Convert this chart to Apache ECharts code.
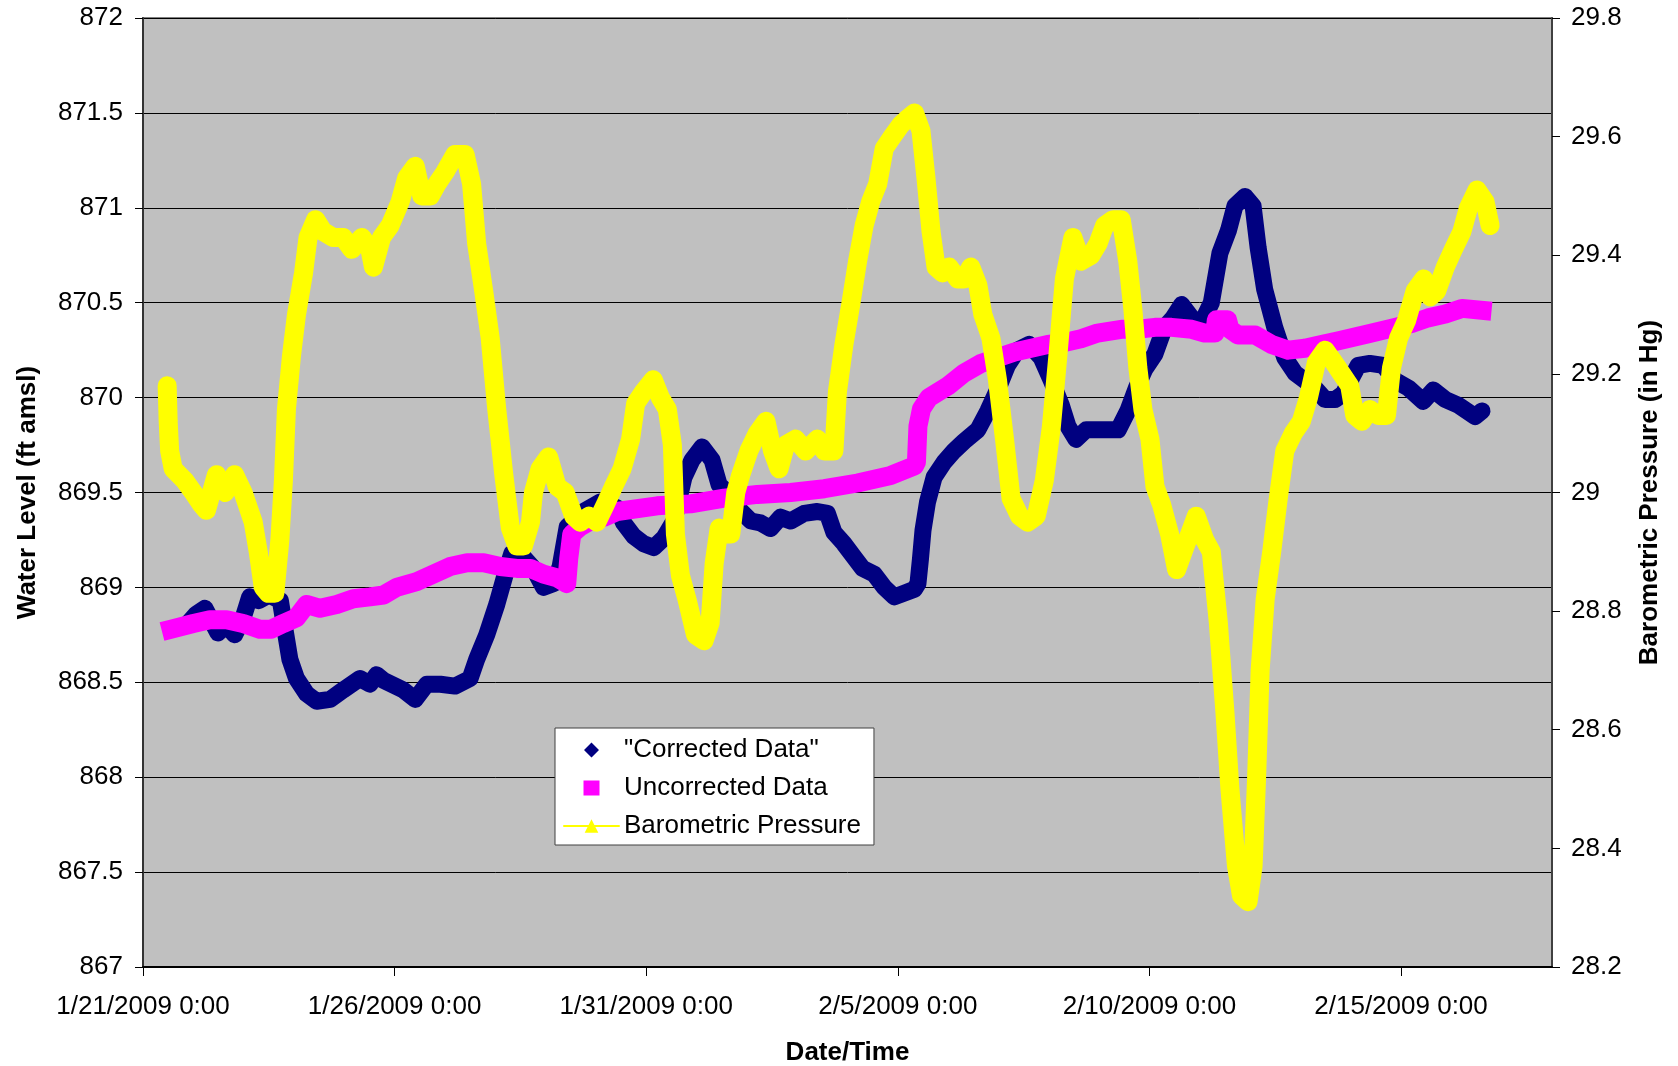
<!DOCTYPE html>
<html>
<head>
<meta charset="utf-8">
<title>Water Level and Barometric Pressure</title>
<script src="https://cdn.jsdelivr.net/npm/echarts@6/dist/echarts.min.js"></script>
<style>
  html, body { margin: 0; padding: 0; background: #ffffff; }
  #chart { width: 1678px; height: 1066px; }
</style>
</head>
<body>
<div id="chart"></div>
<script>
// Time is measured in days after 1/21/2009 0:00.
const xTickDays = [0, 5, 10, 15, 20, 25];
const xTickLabels = ['1/21/2009 0:00', '1/26/2009 0:00', '1/31/2009 0:00',
                     '2/5/2009 0:00', '2/10/2009 0:00', '2/15/2009 0:00'];

// Water level after barometric correction (ft amsl)
const correctedData = [
  [0.56,868.78],[0.86,868.80],[1.06,868.86],[1.23,868.89],[1.49,868.76],[1.66,868.80],[1.82,868.75],
  [1.99,868.84],[2.12,868.95],[2.30,868.93],[2.50,868.96],[2.73,868.93],[2.82,868.78],[2.92,868.62],
  [3.05,868.52],[3.25,868.44],[3.45,868.40],[3.72,868.41],[3.98,868.46],[4.31,868.52],[4.51,868.49],
  [4.64,868.54],[4.78,868.51],[5.17,868.46],[5.41,868.41],[5.64,868.49],[5.91,868.49],[6.20,868.48],
  [6.50,868.52],[6.63,868.62],[6.83,868.75],[7.03,868.91],[7.20,869.07],[7.33,869.18],[7.56,869.16],
  [7.76,869.10],[7.96,869.00],[8.16,869.02],[8.29,869.11],[8.43,869.32],[8.76,869.40],[9.09,869.45],
  [9.42,869.42],[9.55,869.34],[9.75,869.27],[9.95,869.23],[10.15,869.21],[10.35,869.26],[10.55,869.35],
  [10.75,869.58],[10.91,869.67],[11.11,869.74],[11.31,869.67],[11.45,869.54],[11.61,869.50],[11.81,869.42],
  [12.08,869.35],[12.27,869.34],[12.47,869.31],[12.67,869.37],[12.87,869.35],[13.14,869.39],[13.40,869.40],
  [13.60,869.39],[13.73,869.29],[13.93,869.23],[14.13,869.16],[14.30,869.10],[14.53,869.07],[14.73,869.00],
  [14.93,868.95],[15.13,868.97],[15.33,868.99],[15.40,869.02],[15.45,869.15],[15.50,869.30],[15.59,869.45],
  [15.72,869.58],[15.92,869.66],[16.12,869.72],[16.32,869.77],[16.59,869.83],[16.79,869.93],[16.98,870.04],
  [17.18,870.17],[17.38,870.25],[17.61,870.28],[17.85,870.21],[18.05,870.09],[18.25,869.96],[18.38,869.85],
  [18.54,869.78],[18.74,869.83],[18.97,869.83],[19.38,869.83],[19.57,869.93],[19.74,870.05],[19.91,870.15],
  [20.11,870.23],[20.30,870.37],[20.47,870.42],[20.64,870.49],[20.84,870.42],[21.03,870.39],[21.23,870.50],
  [21.40,870.76],[21.57,870.88],[21.70,871.01],[21.90,871.06],[22.06,871.01],[22.16,870.79],[22.29,870.57],
  [22.49,870.37],[22.69,870.21],[22.89,870.13],[23.09,870.09],[23.29,870.05],[23.49,869.99],[23.69,869.99],
  [23.85,870.02],[24.15,870.17],[24.38,870.18],[24.65,870.17],[24.88,870.09],[25.15,870.05],[25.44,869.98],
  [25.64,870.04],[25.88,869.99],[26.14,869.96],[26.47,869.90],[26.61,869.93]
];

// Raw transducer water level (ft amsl)
const uncorrectedData = [
  [0.56,868.78],[1.00,868.81],[1.33,868.83],[1.66,868.83],[1.99,868.81],[2.32,868.78],[2.55,868.78],
  [2.79,868.81],[3.05,868.84],[3.25,868.91],[3.52,868.89],[3.85,868.91],[4.18,868.94],[4.51,868.95],
  [4.78,868.96],[5.04,869.00],[5.44,869.03],[5.77,869.07],[6.10,869.11],[6.44,869.13],[6.77,869.13],
  [7.10,869.11],[7.43,869.10],[7.70,869.10],[7.96,869.07],[8.23,869.05],[8.42,869.02],[8.46,869.15],
  [8.52,869.28],[8.69,869.32],[8.89,869.35],[9.16,869.37],[9.42,869.40],[10.22,869.43],[10.88,869.44],
  [11.55,869.47],[12.21,869.49],[12.87,869.50],[13.54,869.52],[14.20,869.55],[14.86,869.59],[15.33,869.64],
  [15.37,869.66],[15.40,869.85],[15.47,869.94],[15.62,870.00],[15.99,870.06],[16.32,870.13],[16.65,870.18],
  [16.98,870.21],[17.32,870.24],[17.65,870.26],[17.98,870.28],[18.31,870.29],[18.64,870.31],[18.97,870.34],
  [19.44,870.36],[19.77,870.36],[20.11,870.37],[20.44,870.37],[20.84,870.36],[21.10,870.34],[21.30,870.34],
  [21.33,870.41],[21.55,870.41],[21.60,870.36],[21.76,870.33],[22.10,870.33],[22.43,870.28],[22.76,870.25],
  [23.09,870.26],[23.42,870.28],[23.76,870.30],[24.42,870.34],[24.88,870.37],[25.21,870.39],[25.54,870.42],
  [25.88,870.44],[26.21,870.47],[26.61,870.46]
];

// Barometric pressure (in Hg)
const baroData = [
  [0.48,29.18],[0.50,29.12],[0.53,29.07],[0.60,29.04],[0.83,29.02],[1.00,29.00],[1.16,28.98],[1.26,28.97],
  [1.46,29.03],[1.63,29.00],[1.82,29.03],[1.99,29.00],[2.19,28.95],[2.29,28.90],[2.39,28.84],[2.49,28.83],
  [2.62,28.83],[2.72,28.92],[2.79,29.02],[2.85,29.14],[2.95,29.23],[3.05,29.30],[3.19,29.37],[3.28,29.43],
  [3.43,29.46],[3.58,29.44],[3.78,29.43],[3.98,29.43],[4.15,29.41],[4.35,29.43],[4.51,29.41],[4.58,29.38],
  [4.74,29.43],[4.91,29.45],[5.11,29.49],[5.24,29.53],[5.41,29.55],[5.54,29.50],[5.71,29.50],[5.84,29.52],
  [6.00,29.54],[6.20,29.57],[6.40,29.57],[6.53,29.52],[6.63,29.42],[6.77,29.34],[6.90,29.26],[7.03,29.14],
  [7.17,29.03],[7.30,28.94],[7.43,28.91],[7.56,28.91],[7.70,28.95],[7.76,29.00],[7.89,29.04],[8.06,29.06],
  [8.23,29.01],[8.39,29.00],[8.56,28.96],[8.69,28.95],[8.86,28.96],[9.02,28.95],[9.19,28.98],[9.35,29.01],
  [9.52,29.04],[9.69,29.09],[9.79,29.15],[9.95,29.17],[10.14,29.19],[10.28,29.16],[10.42,29.14],[10.52,29.08],
  [10.58,28.93],[10.68,28.86],[10.81,28.82],[10.98,28.76],[11.15,28.75],[11.27,28.78],[11.35,28.88],[11.45,28.94],
  [11.55,28.93],[11.68,28.93],[11.78,29.00],[11.88,29.03],[12.04,29.07],[12.21,29.10],[12.38,29.12],[12.51,29.07],
  [12.64,29.04],[12.77,29.08],[12.97,29.09],[13.17,29.07],[13.40,29.09],[13.54,29.07],[13.73,29.07],[13.80,29.17],
  [13.93,29.25],[14.07,29.32],[14.20,29.39],[14.33,29.45],[14.46,29.49],[14.60,29.52],[14.73,29.58],[14.89,29.60],
  [15.06,29.62],[15.19,29.63],[15.33,29.64],[15.46,29.61],[15.56,29.53],[15.66,29.44],[15.76,29.38],[15.89,29.37],
  [16.02,29.38],[16.19,29.36],[16.32,29.36],[16.45,29.38],[16.59,29.35],[16.69,29.30],[16.85,29.26],[16.98,29.19],
  [17.12,29.09],[17.25,28.99],[17.42,28.96],[17.58,28.95],[17.75,28.96],[17.91,29.02],[18.05,29.11],[18.18,29.23],
  [18.31,29.36],[18.48,29.43],[18.64,29.39],[18.84,29.40],[18.98,29.42],[19.11,29.45],[19.28,29.46],[19.44,29.46],
  [19.57,29.39],[19.67,29.31],[19.77,29.21],[19.87,29.14],[20.01,29.09],[20.11,29.01],[20.24,28.98],[20.40,28.93],
  [20.54,28.87],[20.67,28.90],[20.80,28.93],[20.93,28.96],[21.10,28.92],[21.23,28.90],[21.37,28.78],[21.50,28.63],
  [21.60,28.50],[21.73,28.37],[21.83,28.32],[21.96,28.31],[22.06,28.37],[22.13,28.52],[22.20,28.70],[22.30,28.82],
  [22.43,28.90],[22.56,28.99],[22.69,29.07],[22.86,29.10],[23.02,29.12],[23.16,29.16],[23.32,29.22],[23.49,29.24],
  [23.66,29.22],[23.82,29.20],[23.98,29.18],[24.08,29.13],[24.22,29.12],[24.38,29.14],[24.55,29.13],[24.71,29.13],
  [24.81,29.21],[24.95,29.26],[25.11,29.29],[25.28,29.34],[25.45,29.36],[25.58,29.33],[25.71,29.34],[25.88,29.38],
  [26.04,29.41],[26.21,29.44],[26.34,29.48],[26.51,29.51],[26.67,29.49],[26.77,29.45]
];

const FONT = '"Liberation Sans", Arial, Helvetica, sans-serif';
const labelStyle = { fontFamily: FONT, fontSize: 26, color: '#000' };
const titleStyle = { fontFamily: FONT, fontSize: 26, fontWeight: 'bold', color: '#000' };

// Legend marker shapes drawn inside the full 55 x 17 icon box, so the
// marker keeps its own proportions and sits at the centre of the box.
const ICON_DIAMOND = 'path://M0,0 L0.01,0 L0.01,0.01 L0,0.01 Z M55,17 L54.99,17 L54.99,16.99 L55,16.99 Z M27.5,1 L35,8.5 L27.5,16 L20,8.5 Z';
const ICON_SQUARE = 'path://M0,0 L0.01,0 L0.01,0.01 L0,0.01 Z M55,17 L54.99,17 L54.99,16.99 L55,16.99 Z M19.5,1 L35.5,1 L35.5,16 L19.5,16 Z';

const chart = echarts.init(document.getElementById('chart'), null, { renderer: 'canvas' });

chart.setOption({
  animation: false,
  backgroundColor: '#ffffff',
  grid: {
    left: 143, right: 126, top: 18, bottom: 99,
    show: true, backgroundColor: '#c0c0c0',
    borderColor: '#808080', borderWidth: 2,
    containLabel: false, outerBoundsMode: 'none'
  },
  legend: {
    orient: 'vertical',
    left: 555, top: 728,
    padding: [9, 13, 6, 8],
    itemGap: 12,
    itemWidth: 55, itemHeight: 17,
    symbolKeepAspect: false,
    backgroundColor: '#ffffff',
    borderColor: '#404040', borderWidth: 1, borderRadius: 0,
    textStyle: labelStyle,
    lineStyle: { width: 2 },
    selectedMode: false,
    data: [
      { name: '"Corrected Data"', icon: ICON_DIAMOND },
      { name: 'Uncorrected Data', icon: ICON_SQUARE },
      { name: 'Barometric Pressure' }
    ]
  },
  xAxis: {
    type: 'value',
    min: 0, max: 28, interval: 5,
    name: 'Date/Time', nameLocation: 'middle', nameGap: 73,
    nameTextStyle: titleStyle,
    axisLine: { show: true, onZero: false, lineStyle: { color: '#000', width: 2 } },
    axisTick: { show: true, length: 9, lineStyle: { color: '#000', width: 1 } },
    axisLabel: Object.assign({}, labelStyle, {
      margin: 27, showMaxLabel: false,
      formatter: function (v) {
        const i = xTickDays.indexOf(v);
        return i >= 0 ? xTickLabels[i] : '';
      }
    }),
    splitLine: { show: false }
  },
  yAxis: [
    {
      type: 'value', position: 'left',
      min: 867, max: 872, interval: 0.5,
      name: 'Water Level (ft amsl)', nameLocation: 'middle', nameRotate: 90, nameGap: 102,
      nameTextStyle: titleStyle,
      axisLine: { show: true, lineStyle: { color: '#333', width: 2 } },
      axisTick: { show: true, length: 8, lineStyle: { color: '#000', width: 1 } },
      axisLabel: Object.assign({}, labelStyle, { margin: 20 }),
      splitLine: { show: true, lineStyle: { color: '#000', width: 1 } }
    },
    {
      type: 'value', position: 'right',
      min: 28.2, max: 29.8, interval: 0.2,
      name: 'Barometric Pressure (in Hg)', nameLocation: 'middle', nameRotate: 90, nameGap: 85,
      nameTextStyle: titleStyle,
      axisLine: { show: true, lineStyle: { color: '#404040', width: 2 } },
      axisTick: { show: true, length: 8, lineStyle: { color: '#000', width: 1 } },
      axisLabel: Object.assign({}, labelStyle, { margin: 19 }),
      splitLine: { show: false }
    }
  ],
  series: [
    {
      name: '"Corrected Data"', type: 'line', yAxisIndex: 0,
      data: correctedData, symbol: 'diamond', showSymbol: false, silent: true,
      itemStyle: { color: '#000080' },
      lineStyle: { color: '#000080', width: 17, cap: 'round', join: 'round' },
      z: 2
    },
    {
      name: 'Uncorrected Data', type: 'line', yAxisIndex: 0,
      data: uncorrectedData, symbol: 'rect', showSymbol: false, silent: true,
      itemStyle: { color: '#ff00ff' },
      lineStyle: { color: '#ff00ff', width: 19, cap: 'square', join: 'round' },
      z: 3
    },
    {
      name: 'Barometric Pressure', type: 'line', yAxisIndex: 1,
      data: baroData, symbol: 'triangle', showSymbol: false, silent: true,
      itemStyle: { color: '#ffff00' },
      lineStyle: { color: '#ffff00', width: 19, cap: 'round', join: 'round' },
      z: 4
    }
  ]
});
</script>
</body>
</html>
